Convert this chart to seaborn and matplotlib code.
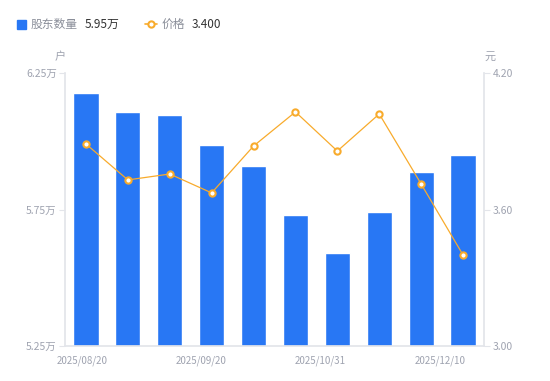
import numpy as np
import pandas as pd
import matplotlib
matplotlib.use("Agg")
import matplotlib.pyplot as plt
import seaborn as sns
from matplotlib.lines import Line2D
from matplotlib.patches import Rectangle

# Data
dates = ["2025/08/20", "2025/08/31", "2025/09/10", "2025/09/20", "2025/09/30",
         "2025/10/20", "2025/10/31", "2025/11/10", "2025/11/20", "2025/12/10"]
holders = [6.177, 6.107, 6.096, 5.986, 5.909, 5.730, 5.591, 5.741, 5.887, 5.950]  # 万户
price = [3.888, 3.730, 3.756, 3.673, 3.879, 4.029, 3.857, 4.020, 3.712, 3.400]   # 元
tick_dates = ["2025/08/20", "2025/09/20", "2025/10/31", "2025/12/10"]

BLUE = "#2877f4"
ORANGE = "#f8ab2c"
GRAY_TXT = "#9fa3b0"
AXIS_CLR = "#e3e5ea"

sns.set_theme(style="white")
plt.rcParams["font.family"] = ["Noto Sans CJK SC", "DejaVu Sans"]

df = pd.DataFrame({"date": dates, "holders": holders, "price": price})

fig = plt.figure(figsize=(5.5, 3.81), dpi=100)
ax = fig.add_axes([65 / 550, 35 / 381, 419 / 550, 273 / 381])

sns.barplot(data=df, x="date", y="holders", color=BLUE, width=0.6,
            saturation=1, ax=ax)
ax.set_ylim(5.25, 6.25)
ax.set_xlim(-0.5, len(dates) - 0.5)

ax2 = ax.twinx()
sns.lineplot(x=np.arange(len(dates)), y=df["price"], color=ORANGE, lw=0.9,
             marker="o", markersize=4.5, markerfacecolor="white",
             markeredgecolor=ORANGE, markeredgewidth=1.5, ax=ax2)
ax2.set_ylim(3.0, 4.2)

# axes styling
for a in (ax, ax2):
    for s in a.spines.values():
        s.set_visible(False)
    a.set_xlabel("")
    a.set_ylabel("")
ax.spines["left"].set_visible(True)
ax.spines["left"].set_color(AXIS_CLR)
ax.spines["bottom"].set_visible(True)
ax.spines["bottom"].set_color(AXIS_CLR)
ax2.spines["right"].set_visible(True)
ax2.spines["right"].set_color(AXIS_CLR)

ax.set_yticks([5.25, 5.75, 6.25])
ax.set_yticklabels(["5.25万", "5.75万", "6.25万"])
ax2.set_yticks([3.0, 3.6, 4.2])
ax2.set_yticklabels(["3.00", "3.60", "4.20"])
ax.tick_params(axis="y", left=True, length=4, width=0.8, color=AXIS_CLR,
               labelsize=7.5, labelcolor=GRAY_TXT, pad=2)
ax2.tick_params(axis="y", right=True, length=4, width=0.8, color=AXIS_CLR,
                labelsize=7.5, labelcolor=GRAY_TXT, pad=2)

# x tick labels spread evenly like the source chart
xpos = np.linspace(-0.1, 8.45, len(tick_dates))
ax.set_xticks(xpos)
ax.set_xticklabels(tick_dates)
ax.tick_params(axis="x", bottom=False, labelsize=7, labelcolor=GRAY_TXT, pad=1)

# unit labels
fig.text(60 / 550, 1 - 57 / 381, "户", ha="center", va="center",
         fontsize=8, color=GRAY_TXT)
fig.text(490 / 550, 1 - 57 / 381, "元", ha="center", va="center",
         fontsize=8, color=GRAY_TXT)

# legend header
ly = 1 - 24 / 381
fig.patches.append(Rectangle((17 / 550, ly - 4.5 / 381), 9 / 550, 9 / 381,
                             transform=fig.transFigure, color=BLUE))
fig.text(31 / 550, ly, "股东数量", ha="left", va="center", fontsize=8.5, color="#8a8e99")
fig.text(85 / 550, ly, "5.95万", ha="left", va="center", fontsize=8.5, color="#333333")
fig.lines.append(Line2D([145 / 550, 157 / 550], [ly, ly], transform=fig.transFigure,
                        color=ORANGE, lw=1.2))
fig.lines.append(Line2D([151 / 550], [ly], transform=fig.transFigure,
                        color=ORANGE, marker="o", markersize=4.5,
                        markerfacecolor="white", markeredgewidth=1.5))
fig.text(162 / 550, ly, "价格", ha="left", va="center", fontsize=8.5, color="#8a8e99")
fig.text(192 / 550, ly, "3.400", ha="left", va="center", fontsize=8.5, color="#333333")

fig.savefig("out.png", dpi=100)
